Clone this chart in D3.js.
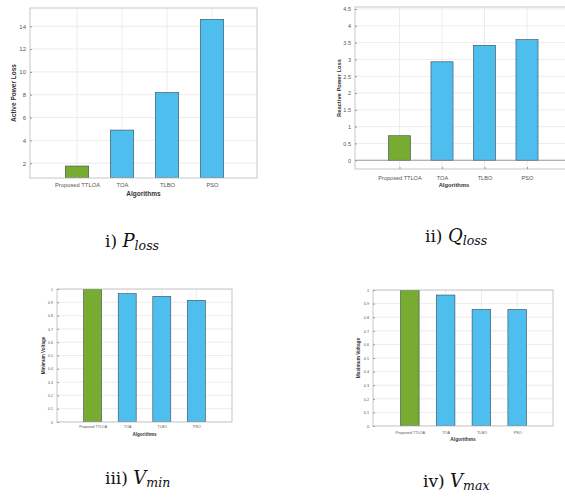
<!DOCTYPE html>
<html>
<head>
<meta charset="utf-8">
<script src="https://cdn.jsdelivr.net/npm/d3@7"></script>
<style>
  html, body { margin: 0; padding: 0; background: #fff; }
  svg { display: block; }
</style>
</head>
<body>
<svg id="chart" width="565" height="499"></svg>
<script>
// ---------- DATA ----------
const categories = ["Proposed TTLOA", "TOA", "TLBO", "PSO"];
const pLoss = [1.75, 4.9, 8.2, 14.6];
const qLoss = [0.73, 2.93, 3.42, 3.59];
const vMin = [1.0, 0.965, 0.945, 0.915];
const vMax = [1.0, 0.963, 0.857, 0.857];
const pLossTicks = [2, 4, 6, 8, 10, 12, 14];
const qLossTicks = [0, 0.5, 1, 1.5, 2, 2.5, 3, 3.5, 4, 4.5];
const voltTicks = [0, 0.1, 0.2, 0.3, 0.4, 0.5, 0.6, 0.7, 0.8, 0.9, 1];
const yLabels = ["Active Power Loss", "Reactive Power Loss", "Minimum Voltage", "Maximum Voltage"];
const xLabel = "Algorithms";
const captionNums = ["i)", "ii)", "iii)", "iv)"];
const captionVars = ["P", "Q", "V", "V"];
const captionSubs = ["loss", "loss", "min", "max"];

// ---------- LAYOUT ----------
const svg = d3.select("#chart");
const green = "#77ac30", blue = "#4dbeee";

const panels = [
  { values: pLoss, ticks: pLossTicks, yDom: [0.7, 15.6], x0: 32, x5: 257, left: 30, right: 257, top: 8, bottom: 178,
    tickFs: 6, labFs: 6.5, yLabX: 14, xTickY: 185, xLabY: 194, catFs: 5.8, caption: { x: 105, y: 247 } },
  { values: qLoss, ticks: qLossTicks, yDom: [-0.26, 4.56], x0: 357, x5: 569.5, left: 355, right: 567, top: 7, bottom: 169,
    tickFs: 5.5, labFs: 5.8, yLabX: 339, xTickY: 178, xLabY: 185, catFs: 5.6, caption: { x: 425, y: 242 } },
  { values: vMin, ticks: voltTicks, yDom: [0, 1], x0: 58, x5: 231, left: 57, right: 232, top: 289, bottom: 422,
    tickFs: 3.6, labFs: 4.6, yLabX: 44, xTickY: 427, xLabY: 435, catFs: 3.6, caption: { x: 105, y: 484 } },
  { values: vMax, ticks: voltTicks, yDom: [0, 1], x0: 374, x5: 553, left: 373, right: 553, top: 290, bottom: 426,
    tickFs: 3.8, labFs: 4.8, yLabX: 359, xTickY: 433, xLabY: 440, catFs: 3.8, caption: { x: 423, y: 487 } }
];

panels.forEach((p, pi) => {
  const g = svg.append("g");
  const x = d3.scaleLinear().domain([0, 5]).range([p.x0, p.x5]);
  const y = d3.scaleLinear().domain(p.yDom).range([p.bottom, p.top]);
  const catIdx = categories.map((c, i) => i + 1);

  const clipId = "clip" + pi;
  g.append("clipPath").attr("id", clipId).append("rect")
    .attr("x", p.left).attr("y", p.top).attr("width", p.right - p.left).attr("height", p.bottom - p.top);

  g.append("rect").attr("x", p.left).attr("y", p.top).attr("width", p.right - p.left).attr("height", p.bottom - p.top)
    .attr("fill", "#fff");

  const grid = g.append("g").attr("clip-path", `url(#${clipId})`);
  grid.selectAll("line.h").data(p.ticks).join("line")
    .attr("x1", p.left).attr("x2", p.right)
    .attr("y1", d => y(d)).attr("y2", d => y(d))
    .attr("stroke", "#e4e4e4").attr("stroke-width", 0.7);
  grid.selectAll("line.v").data(catIdx).join("line")
    .attr("class", "v")
    .attr("x1", d => x(d)).attr("x2", d => x(d))
    .attr("y1", p.top).attr("y2", p.bottom)
    .attr("stroke", "#e4e4e4").attr("stroke-width", 0.7);

  const base = Math.max(0, p.yDom[0]);
  const bw = x(0.52) - x(0);
  grid.selectAll("rect.bar").data(p.values).join("rect")
    .attr("class", "bar")
    .attr("x", (d, i) => x(i + 1) - bw / 2)
    .attr("width", bw)
    .attr("y", d => y(d))
    .attr("height", d => y(base) - y(d))
    .attr("fill", (d, i) => i === 0 ? green : blue)
    .attr("stroke", "#3a4a55").attr("stroke-width", 0.6);

  if (p.yDom[0] < 0) {
    grid.append("line").attr("x1", p.left).attr("x2", p.right)
      .attr("y1", y(0)).attr("y2", y(0)).attr("stroke", "#8a8a8a").attr("stroke-width", 0.8);
  }

  g.append("rect").attr("x", p.left).attr("y", p.top).attr("width", p.right - p.left).attr("height", p.bottom - p.top)
    .attr("fill", "none").attr("stroke", "#b8b8b8").attr("stroke-width", 0.8);

  const yAxis = d3.axisLeft(y).tickValues(p.ticks).tickSize(-2).tickPadding(4)
    .tickFormat(d => d3.format("~g")(d));
  const ya = g.append("g").attr("transform", `translate(${p.left},0)`).call(yAxis);
  ya.select(".domain").remove();
  ya.selectAll("line").attr("stroke", "#999");
  ya.selectAll("text").attr("font-family", "Arial, 'Liberation Sans', sans-serif")
    .attr("font-size", p.tickFs).attr("fill", "#555");

  const xAxis = d3.axisBottom(x).tickValues(catIdx).tickSize(-2).tickPadding(0)
    .tickFormat(d => categories[d - 1]);
  const xa = g.append("g").attr("transform", `translate(0,${p.bottom})`).call(xAxis);
  xa.select(".domain").remove();
  xa.selectAll("line").attr("stroke", "#999");
  xa.selectAll("text").attr("y", p.xTickY - p.bottom).attr("dy", "0.35em")
    .attr("font-family", "Arial, 'Liberation Sans', sans-serif")
    .attr("font-size", p.catFs).attr("fill", "#555");

  g.append("text").attr("x", (p.left + Math.min(p.right, 565)) / 2 + (pi === 1 ? -6 : 0)).attr("y", p.xLabY)
    .attr("text-anchor", "middle").attr("dominant-baseline", "middle")
    .attr("font-family", "Arial, 'Liberation Sans', sans-serif").attr("font-weight", "bold")
    .attr("font-size", p.labFs).attr("fill", "#333").text(xLabel);
  g.append("text")
    .attr("transform", `translate(${p.yLabX},${(p.top + p.bottom) / 2}) rotate(-90)`)
    .attr("text-anchor", "middle").attr("dominant-baseline", "middle")
    .attr("font-family", "Arial, 'Liberation Sans', sans-serif").attr("font-weight", "bold")
    .attr("font-size", p.labFs).attr("fill", "#333").text(yLabels[pi]);

  const cap = svg.append("text").attr("x", p.caption.x).attr("y", p.caption.y)
    .attr("font-family", "'DejaVu Serif', 'Liberation Serif', serif").attr("font-size", 17).attr("fill", "#111");
  cap.append("tspan").text(captionNums[pi] + " ");
  cap.append("tspan").attr("font-style", "italic").attr("font-size", 18).text(captionVars[pi]);
  cap.append("tspan").attr("font-style", "italic").attr("font-size", 12.5).attr("dy", 3).text(captionSubs[pi]);
});
</script>
</body>
</html>
